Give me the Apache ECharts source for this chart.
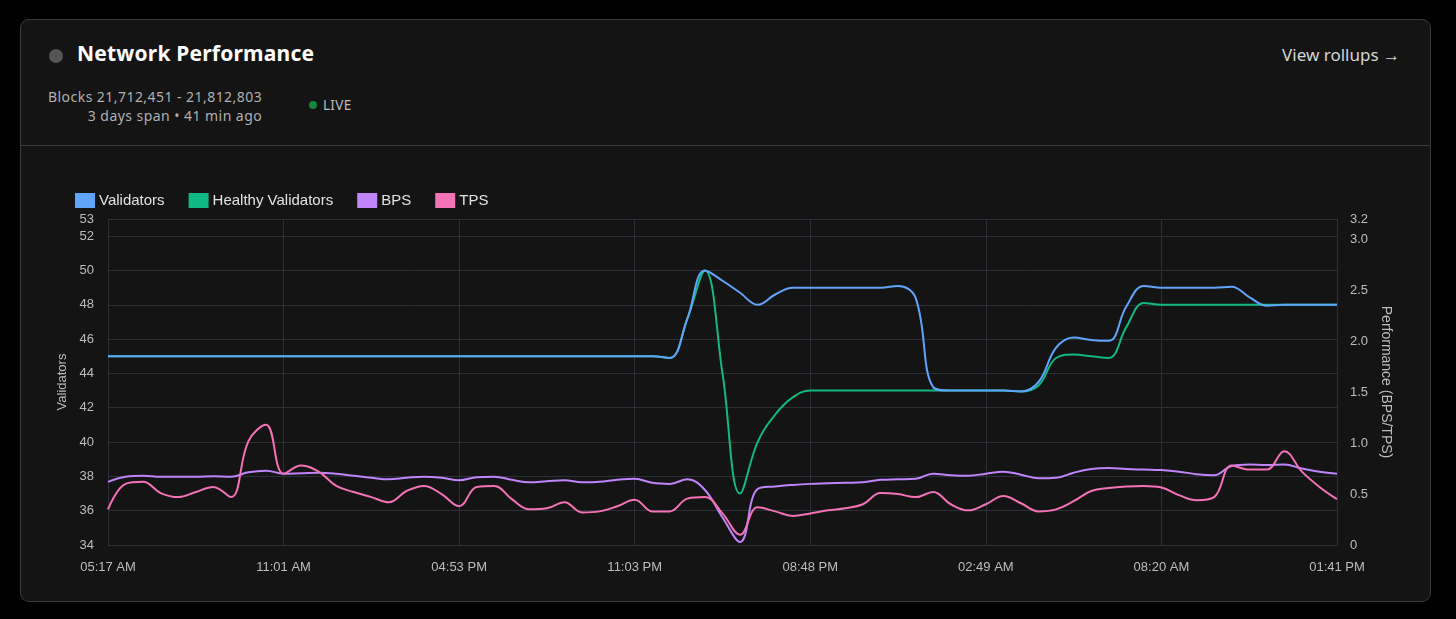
<!DOCTYPE html>
<html>
<head>
<meta charset="utf-8">
<script src="https://cdn.jsdelivr.net/npm/echarts@6/dist/echarts.min.js"></script>
<style>
  html, body { margin: 0; padding: 0; background: #000; width: 1456px; height: 619px; overflow: hidden; }
  .card { position: absolute; left: 20px; top: 19px; width: 1409px; height: 581px; background: #141414; border: 1px solid #3a3a3a; border-radius: 9px; font-family: "Noto Sans", sans-serif; }
  .head { position: absolute; left: 0; top: 0; width: 100%; height: 125px; border-bottom: 1px solid #3c3c3c; }
  .dot { position: absolute; left: 28px; top: 29px; width: 14px; height: 14px; border-radius: 50%; background: #555; }
  .title { position: absolute; left: 56px; top: 19px; font-size: 21px; font-weight: 700; color: #fff; letter-spacing: 0.2px; }
  .rollups { position: absolute; right: 30px; top: 23px; font-size: 17px; color: #d4d4d4; }
  .blocks { position: absolute; left: 27px; top: 67px; font-size: 14px; line-height: 19px; color: #b0b0b0; text-align: right; letter-spacing: 0.45px; }
  .live { position: absolute; left: 288px; top: 76px; font-size: 13.5px; color: #bdbdbd; letter-spacing: 0.3px; }
  .live i { display: inline-block; width: 8px; height: 8px; border-radius: 50%; background: #16853f; margin-right: 6px; vertical-align: 1px; }
  #NetworkChartDiv { position: absolute; left: 0; top: 127px; width: 1409px; height: 454px; }
</style>
</head>
<body>
<div class="card">
  <div class="head">
    <div class="dot"></div>
    <div class="title">Network Performance</div>
    <div class="rollups">View rollups →</div>
    <div class="blocks">Blocks 21,712,451 - 21,812,803<br>3 days span • 41 min ago</div>
    <div class="live"><i></i>LIVE</div>
  </div>
  <div id="NetworkChartDiv"></div>
</div>
<script>
//x轴时间标签（每10个点一个）
var timeLabels = ['05:17 AM', '11:01 AM', '04:53 PM', '11:03 PM', '08:48 PM', '02:49 AM', '08:20 AM', '01:41 PM'];

//验证者数量
var validators = [
    45, 45, 45, 45, 45, 45, 45, 45, 45, 45,
    45, 45, 45, 45, 45, 45, 45, 45, 45, 45,
    45, 45, 45, 45, 45, 45, 45, 45, 45, 45,
    45, 45, 44.9, 47.2, 50, 49.4, 48.7, 48.0, 48.6, 49,
    49, 49, 49, 49, 49, 49.1, 48.4, 43.2, 43, 43,
    43, 43, 42.95, 43.5, 45.5, 46.1, 45.95, 45.9, 47.9, 49.1,
    49, 49, 49, 49, 49.05, 48.45, 47.95, 48, 48, 48,
    48
];

//健康验证者数量
var healthyValidators = [
    45, 45, 45, 45, 45, 45, 45, 45, 45, 45,
    45, 45, 45, 45, 45, 45, 45, 45, 45, 45,
    45, 45, 45, 45, 45, 45, 45, 45, 45, 45,
    45, 45, 44.9, 47.2, 50, 44.0, 37.0, 40.0, 41.6, 42.6,
    43, 43, 43, 43, 43, 43, 43, 43, 43, 43,
    43, 43, 42.95, 43.3, 44.9, 45.1, 45.0, 44.9, 46.7, 48.1,
    48, 48, 48, 48, 48, 48, 48, 48, 48, 48,
    48
];

//BPS
var bps = [
    0.62, 0.67, 0.68, 0.67, 0.67, 0.67, 0.675, 0.67, 0.715, 0.73,
    0.70, 0.705, 0.71, 0.70, 0.68, 0.66, 0.645, 0.66, 0.67, 0.66,
    0.635, 0.665, 0.67, 0.64, 0.615, 0.625, 0.635, 0.615, 0.62, 0.64,
    0.65, 0.61, 0.60, 0.645, 0.54, 0.27, 0.03, 0.55, 0.575, 0.59,
    0.60, 0.605, 0.61, 0.615, 0.64, 0.645, 0.65, 0.70, 0.685, 0.68,
    0.70, 0.72, 0.69, 0.655, 0.66, 0.71, 0.745, 0.755, 0.745, 0.74,
    0.735, 0.72, 0.695, 0.685, 0.775, 0.79, 0.785, 0.79, 0.75, 0.72,
    0.70
];

//TPS
var tps = [
    0.35, 0.60, 0.62, 0.51, 0.47, 0.52, 0.57, 0.47, 1.02, 1.18,
    0.70, 0.78, 0.72, 0.58, 0.52, 0.47, 0.42, 0.53, 0.58, 0.50,
    0.38, 0.57, 0.58, 0.45, 0.35, 0.36, 0.42, 0.32, 0.33, 0.38,
    0.445, 0.33, 0.33, 0.455, 0.47, 0.31, 0.10, 0.37, 0.33, 0.285,
    0.31, 0.34, 0.36, 0.40, 0.51, 0.50, 0.47, 0.52, 0.40, 0.34,
    0.40, 0.48, 0.41, 0.33, 0.35, 0.43, 0.53, 0.56, 0.575, 0.58,
    0.565, 0.49, 0.44, 0.47, 0.78, 0.74, 0.74, 0.92, 0.72, 0.57,
    0.45
];

var NetworkChart;

//转成 [序号, 值]
function ToPoints(arr) {
    return arr.map(function (v, i) { return [i, v]; });
}

function GetLineSeries(name, data, color, yIndex, z) {
    return {
        name: name,
        type: 'line',
        yAxisIndex: yIndex,
        data: ToPoints(data),
        smooth: 0.4,
        showSymbol: false,
        z: z,
        lineStyle: { width: 2, color: color },
        itemStyle: { color: color }
    };
}

function InitChart() {
    NetworkChart = echarts.init(document.getElementById('NetworkChartDiv'));
    var gridColor = '#2b3038';
    var labelColor = '#bdbdbd';
    var option = {
        backgroundColor: 'transparent',
        textStyle: { fontFamily: 'Liberation Sans' },
        animation: false,
        legend: {
            left: 49, top: 41,
            itemWidth: 20, itemHeight: 15, itemGap: 24,
            icon: 'rect',
            textStyle: { color: '#e2e2e2', fontSize: 15, fontFamily: 'Liberation Sans', padding: [0, 0, 0, -1] },
            data: ['Validators', 'Healthy Validators', 'BPS', 'TPS']
        },
        grid: { left: 87, right: 93, top: 72, bottom: 56 },
        xAxis: {
            type: 'value', min: 0, max: timeLabels.length * 10 - 10, interval: 10,
            axisLine: { show: true, lineStyle: { color: gridColor } },
            axisTick: { show: false },
            splitLine: { show: true, lineStyle: { color: gridColor } },
            axisLabel: {
                color: labelColor, fontSize: 13, margin: 16,
                formatter: function (v) { return timeLabels[v / 10] || ''; }
            }
        },
        yAxis: [
            {
                type: 'value', min: 34, max: 53, interval: 2,
                name: 'Validators', nameLocation: 'middle', nameGap: 38,
                nameTextStyle: { color: labelColor, fontSize: 13 },
                axisLine: { show: false }, axisTick: { show: false },
                splitLine: { show: true, lineStyle: { color: gridColor } },
                axisLabel: { color: labelColor, fontSize: 13, margin: 14 }
            },
            {
                type: 'value', min: 0, max: 3.2, interval: 0.5, position: 'right',
                name: 'Performance (BPS/TPS)', nameLocation: 'middle', nameGap: 40, nameRotate: -90,
                nameTextStyle: { color: labelColor, fontSize: 14 },
                axisLine: { show: false }, axisTick: { show: false },
                splitLine: { show: false },
                axisLabel: {
                    color: labelColor, fontSize: 13, margin: 13,
                    formatter: function (v) { return v === 0 ? '0' : v.toFixed(1); }
                }
            }
        ],
        series: [
            GetLineSeries('Validators', validators, '#60a5fa', 0, 4),
            GetLineSeries('Healthy Validators', healthyValidators, '#10b981', 0, 3),
            GetLineSeries('BPS', bps, '#c084fc', 1, 2),
            GetLineSeries('TPS', tps, '#f472b6', 1, 2)
        ]
    };
    NetworkChart.setOption(option);
}

InitChart();
</script>
</body>
</html>
